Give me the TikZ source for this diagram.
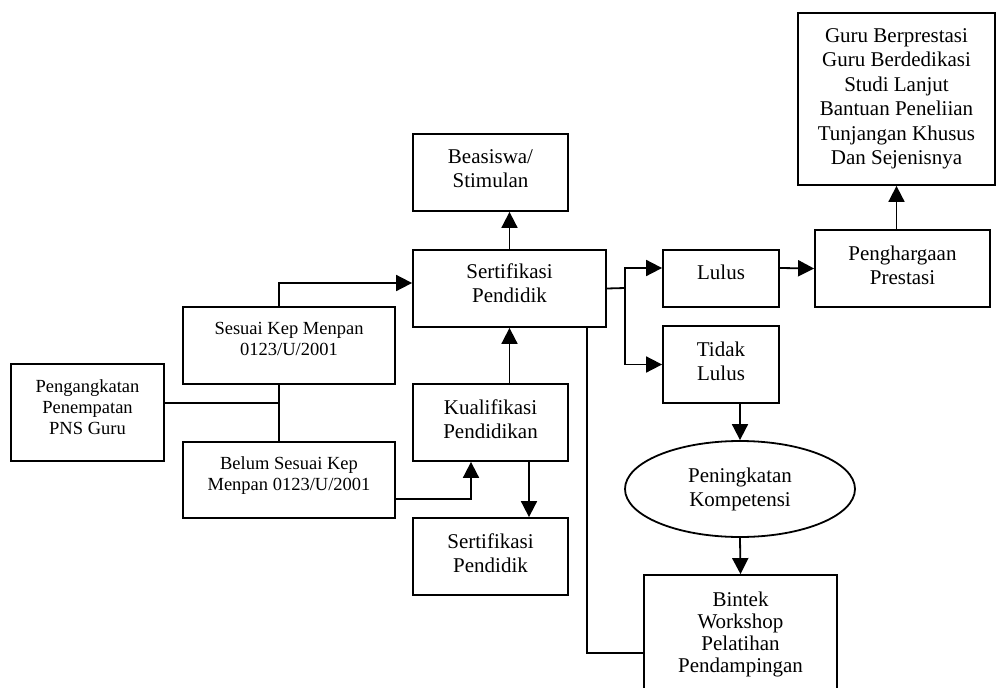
\documentclass[tikz,border=0pt]{standalone}
\usepackage{fontspec}
\setmainfont{Liberation Serif}
\usetikzlibrary{shapes.geometric,arrows.meta}

\tikzset{
  box/.style={draw, line width=1.8pt, align=center, inner sep=2pt,
    font=\fontsize{21}{24}\selectfont},
  smallbox/.style={box, font=\fontsize{18.5}{21}\selectfont},
  oval/.style={box, ellipse, inner sep=0pt},
  lift/.style={execute at end node={\rule[-#1]{0pt}{#1}}},
  arr/.style={line width=1.8pt, -{Triangle[length=16pt,width=16pt]}},
  link/.style={line width=1.8pt}
}

\begin{document}
\begin{tikzpicture}[x=1pt,y=-1pt]
\useasboundingbox (0,0) rectangle (996,688);

% left side
\node[smallbox, lift=10pt, minimum width=153pt, minimum height=97pt] (peng) at (87.5,412.5) {Pengangkatan\\Penempatan\\PNS Guru};
\node[smallbox, lift=13pt, minimum width=212pt, minimum height=77pt] (sesuai) at (289,345.5) {Sesuai Kep Menpan\\0123/U/2001};
\node[smallbox, lift=12pt, minimum width=212pt, minimum height=76pt] (belum) at (289,480) {Belum Sesuai Kep\\Menpan 0123/U/2001};

% middle column
\node[box, lift=7pt, minimum width=155pt, minimum height=77pt] (beas) at (490.5,172.5) {Beasiswa/\\Stimulan};
\node[box, lift=11pt, minimum width=193pt, minimum height=77pt] (sert) at (509.5,288.5) {Sertifikasi\\Pendidik};
\node[box, lift=7pt, minimum width=155pt, minimum height=77pt] (kual) at (490.5,422.5) {Kualifikasi\\Pendidikan};
\node[box, lift=6pt, minimum width=155pt, minimum height=77pt] (sert2) at (490.5,556.5) {Sertifikasi\\Pendidik};

% right side
\node[box, lift=13pt, minimum width=116pt, minimum height=57pt] (lulus) at (721,278.5) {Lulus};
\node[box, lift=7pt, minimum width=116pt, minimum height=77pt] (tidak) at (721,364.5) {Tidak\\Lulus};
\node[oval, minimum width=230pt, minimum height=96pt] (komp) at (740,489) {Peningkatan\\Kompetensi};
\node[box, lift=11pt, font=\fontsize{21}{22}\selectfont, minimum width=193pt, minimum height=125pt] (bintek) at (740.5,637.5) {Bintek\\Workshop\\Pelatihan\\Pendampingan};
\node[box, lift=6pt, minimum width=175pt, minimum height=77pt] (harga) at (902.5,268.5) {Penghargaan\\Prestasi};
\node[box, font=\fontsize{21}{24.5}\selectfont, minimum width=197pt, minimum height=172pt] (guru) at (896.5,99) {Guru Berprestasi\\Guru Berdedikasi\\Studi Lanjut\\Bantuan Peneliian\\Tunjangan Khusus\\Dan Sejenisnya};

\coordinate (j) at (279,403);
\coordinate (split) at (625,288);

% connectors
\draw[link] (j -| peng.east) -- (j);
\draw[link] (sesuai.south -| j) -- (belum.north -| j);
\draw[arr] (sesuai.north -| j) |- ([yshift=5.5pt]sert.west);
\draw[arr] (sert.north) -- (sert.north |- beas.south);
\draw[arr] (kual.north -| sert.north) -- (sert.south);
\draw[arr] ([yshift=-19pt]belum.east) -| ([xshift=-19.5pt]kual.south);
\draw[arr] ([xshift=38.5pt]kual.south) -- ([xshift=38.5pt]sert2.north);
\draw[link] ([xshift=77.5pt]sert.south) |- ([yshift=-15.5pt]bintek.west);

\draw[link] (sert.east) -- (split);
\draw[arr] (split) |- ([yshift=10.5pt]lulus.west);
\draw[arr] (split) |- (tidak.west);
\draw[arr] ([yshift=10.5pt]lulus.east) -- (harga.west);
\draw[arr] (komp.north |- tidak.south) -- (komp.north);
\draw[arr] (komp.south) -- (bintek.north);
\draw[arr] (harga.north -| guru.south) -- (guru.south);

\end{tikzpicture}
\end{document}
